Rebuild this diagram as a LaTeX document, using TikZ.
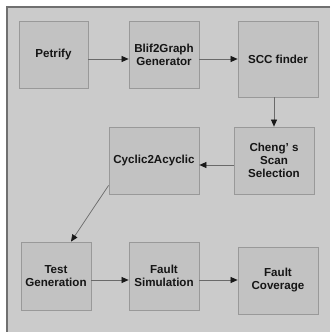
\documentclass[tikz,border=0pt]{standalone}
\usepackage{fontspec}
\setmainfont{Liberation Sans}
\usetikzlibrary{arrows.meta}
\definecolor{bgc}{HTML}{CBCBCB}
\definecolor{boxc}{HTML}{C2C2C2}
\definecolor{boxline}{HTML}{999999}
\definecolor{framec}{HTML}{707070}
\definecolor{linec}{HTML}{6A6A6A}
\definecolor{txtc}{HTML}{151515}
\tikzset{
  blk/.style={draw=boxline, fill=boxc, line width=0.8pt, rectangle, align=center,
    inner sep=0pt, text=txtc,
    font=\fontsize{11.6pt}{13pt}\selectfont\bfseries},
  conn/.style={draw=linec, line width=0.7pt,
    -{Triangle[length=7pt,width=6pt,color=black!90]}}
}
\begin{document}
\begin{tikzpicture}[x=1pt,y=-1pt]
\useasboundingbox (0,0) rectangle (330,332);
\fill[white] (0,0) rectangle (330,332);
\fill[bgc] (7,7) rectangle (330,332);
\draw[framec, line width=1.2pt] (330,7) -- (7,7) -- (7,332);

\node[blk, minimum width=69pt, minimum height=67pt] (pet) at (53.5,54.5) {Petrify};
\node[blk, minimum width=70pt, minimum height=67pt] (blif) at (164,54.5) {Blif2Graph\\Generator};
\node[blk, minimum width=80pt, minimum height=76pt] (scc) at (278,59) {SCC finder};
\node[blk, minimum width=90pt, minimum height=67pt] (cyc) at (154,160.5) {Cyclic2Acyclic};
\node[blk, minimum width=80pt, minimum height=67pt] (cheng) at (274,160.5) {Cheng' s\\Scan\\Selection};
\node[blk, minimum width=70pt, minimum height=68pt] (test) at (56,276) {Test\\Generation};
\node[blk, minimum width=70pt, minimum height=68pt] (sim) at (164,276) {Fault\\Simulation};
\node[blk, minimum width=80pt, minimum height=67pt] (cov) at (278,280.5) {Fault\\Coverage};

\draw[conn] ([yshift=-4.5pt]pet.east) -- ([yshift=-4.5pt]blif.west);
\draw[conn] ([yshift=-4.5pt]blif.east) -- (scc.west);
\draw[conn] (scc.south -| cheng.north) -- (cheng.north);
\draw[conn] ([yshift=-4.5pt]cheng.west) -- ([yshift=-4.5pt]cyc.east);
\draw[conn] ([yshift=9pt]cyc.south west) -- ([xshift=15pt]test.north);
\draw[conn] ([yshift=-4pt]test.east) -- ([yshift=-4pt]sim.west);
\draw[conn] ([yshift=-4pt]sim.east) -- ([yshift=0.5pt]cov.west);
\end{tikzpicture}
\end{document}
